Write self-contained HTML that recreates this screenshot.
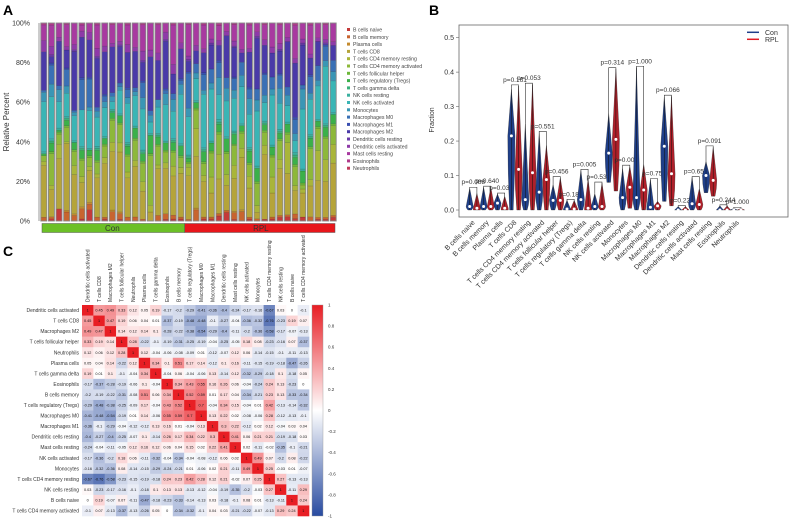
<!DOCTYPE html>
<html><head><meta charset="utf-8"><style>
html,body{margin:0;padding:0;background:#fff;}
svg{display:block;font-family:"Liberation Sans",Arial,sans-serif;}
</style></head><body>
<svg id="fig" width="789" height="519" viewBox="0 0 789 519" xmlns="http://www.w3.org/2000/svg">
<rect x="0" y="0" width="789" height="519" fill="#fff"/>
<text x="3" y="15" font-size="14" font-weight="bold">A</text>
<text x="429" y="15" font-size="14" font-weight="bold">B</text>
<text x="3" y="256" font-size="14" font-weight="bold">C</text>
<g id="pa"></g>
<g id="pb"></g>
<g id="pc"></g>
</svg>
<script>
// ---------- Panel A data ----------
const cellTypes=["B cells naive","B cells memory","Plasma cells","T cells CD8","T cells CD4 memory resting","T cells CD4 memory activated","T cells follicular helper","T cells regulatory (Tregs)","T cells gamma delta","NK cells resting","NK cells activated","Monocytes","Macrophages M0","Macrophages M1","Macrophages M2","Dendritic cells resting","Dendritic cells activated","Mast cells resting","Eosinophils","Neutrophils"];
const typeColors=["#c43a3a","#c8642f","#c48a2e","#b5a43a","#a9b53a","#8db83a","#6cb83a","#3bb04a","#3bb07a","#3bb0a0","#3ab5b5","#3a96b5","#3a70b5","#3a4fb0","#4a3aa8","#6a3aa8","#8e3aa8","#a83aa0","#b03a8a","#c03a5a"];
const groupCon=19, groupRpl=20;
const bNaive=[0,1,6,0,0,1,6,0,1,0,1,0,0,0,0,0,1,1,1, 0,0,1,1,2,4,1,0,1,0,1,1,2,2,1,2,0,1,1,2];
const bMem=[2,1,0,5,3,5,3,2,1,5,3,2,2,1,0,3,3,2,1, 1,6,1,1,1,1,4,5,1,1,0,1,1,1,2,0,2,1,1,1];
const plasma=[0,0,0,1,1,1,1,0,0,1,1,0,0,0,0,0,0,0,0, 0,1,0,0,0,0,1,1,0,0,0,0,0,0,0,0,0,0,0,0];
const cd8=[27,13,25,37,22,12,17,20,28,32,33,20,25,15,4,25,25,20,22, 25,28,18,12,14,12,20,28,15,3,35,12,25,20,10,12,15,20,20,28];
const cd4r=[2,2,7,1,5,3,2,2,3,5,5,3,3,5,3,2,3,5,3, 5,15,3,8,10,5,8,5,6,3,5,8,5,15,2,2,3,16,12,10];
const cd4a=[3,15,5,8,8,8,5,6,6,12,10,8,10,10,22,10,6,7,5, 2,10,6,12,8,10,12,8,6,10,7,10,10,4,8,2,15,12,12,10];
const tfh=[0,1,1,1,1,1,1,1,1,1,1,1,1,1,1,1,1,1,1, 1,1,1,1,1,1,1,1,1,1,1,1,1,1,1,1,1,1,1,1];
const treg=[1,4,1,3,4,4,3,5,3,3,4,4,5,4,8,4,4,4,5, 2,3,5,4,3,6,6,3,6,6,3,4,3,4,3,6,4,3,5,5];
const gd=[0,1,0,1,0,1,0,1,0,1,0,1,0,1,0,1,0,1,0, 1,0,1,0,1,0,1,0,1,0,1,0,1,0,1,0,1,0,1,0];
const nkR=[1,1,1,1,1,1,1,1,1,1,1,1,1,1,1,1,1,1,1, 1,1,1,1,1,1,1,1,1,1,1,1,1,1,1,1,1,1,1,1];
const nkA=[26,20,13,13,14,18,20,15,15,4,13,20,15,22,5,14,20,14,25, 22,12,27,26,10,17,20,20,17,25,10,25,14,8,5,30,17,18,32,17];
const mono=[5,6,6,4,2,0,2,3,3,3,2,3,2,6,3,4,6,6,5, 5,3,2,3,7,6,5,6,8,5,4,3,8,5,3,10,3,3,3,5];
const m0=[1,9,2,9,1,15,15,2,3,2,2,4,2,8,2,0,2,3,2, 20,5,8,7,6,5,7,7,5,5,11,6,7,4,6,2,8,8,8,6];
const m1=[0,1,0,1,0,1,1,0,1,0,0,1,0,1,0,0,1,0,1, 1,0,1,0,1,0,1,0,1,0,1,0,1,0,1,0,1,0,1,0];
const m2=[20,3,22,10,33,20,20,25,22,25,20,18,18,10,24,21,26,10,15, 6,7,10,12,6,20,18,5,18,23,15,12,12,22,23,20,8,13,0,8];
const dcR=[0,1,0,0,1,0,0,1,0,0,1,0,0,1,0,0,1,0,0, 1,0,0,1,0,0,1,0,0,1,0,0,1,0,0,1,0,0,1,0];
const dcA=[6,4,2,2,3,3,4,4,3,2,2,4,2,5,3,4,4,5,3, 2,3,2,2,2,2,3,2,2,2,3,3,3,2,2,2,2,2,2,2];
const mast=[8,10,7,12,12,3,5,12,12,10,10,10,12,14,12,15,5,20,10, 18,12,12,8,6,4,10,14,12,4,8,12,10,7,14,8,14,8,8,10];
const eos=[1,1,0,1,0,1,0,1,0,1,0,1,0,1,0,1,0,1,0, 1,0,1,0,1,0,1,0,1,0,1,0,1,0,1,0,1,0,1,0];
const neut=[0,0,0,0,0,0,0,0,0,0,0,0,0,0,0,0,0,0,0, 0,0,0,0,0,0,0,0,0,0,0,0,0,0,0,0,0,0,0,0];
const aTicks=["0%","20%","40%","60%","80%","100%"];

// ---------- Panel B data ----------
const bCats=["B cells naive","B cells memory","Plasma cells","T cells CD8","T cells CD4 memory resting","T cells CD4 memory activated","T cells follicular helper","T cells regulatory (Tregs)","T cells gamma delta","NK cells resting","NK cells activated","Monocytes","Macrophages M0","Macrophages M1","Macrophages M2","Dendritic cells resting","Dendritic cells activated","Mast cells resting","Eosinophils","Neutrophils"];
const conMax=[0.063,0.066,0.046,0.35,0.25,0.225,0.073,0.028,0.115,0.047,0.28,0.12,0.414,0.088,0.33,0.01,0.094,0.14,0.012,0.005];
const conMed=[0.01,0.01,0.02,0.215,0.03,0.052,0.028,0.003,0.03,0.01,0.165,0.036,0.036,0.008,0.185,0.0,0.018,0.1,0.0,0.0];
const conMin=[0,0,0,0,0,0,0,0,0,0,0.08,0,0,0,0.025,0,0,0.05,0,0];
const rplMax=[0.048,0.066,0.04,0.36,0.365,0.187,0.094,0.028,0.09,0.078,0.41,0.127,0.133,0.025,0.33,0.01,0.062,0.183,0.012,0.005];
const rplMed=[0.005,0.01,0.005,0.118,0.108,0.088,0.028,0.003,0.005,0.01,0.205,0.066,0.058,0.012,0.105,0.0,0.016,0.086,0.0,0.0];
const rplMin=[0,0,0,0,0,0,0,0,0,0,0.055,0.005,0,0,0.012,0,0,0.04,0,0];
const pVals=["p=0.088","p=0.640","p=0.037","p=0.161","p=0.053","p=0.551","p=0.456","p=0.188","p=0.005","p=0.531","p=0.314","p=0.001","p=1.000","p=0.755","p=0.066","p=0.225","p=0.652","p=0.091","p=0.244","p=1.000"];
const bTicks=[0,0.1,0.2,0.3,0.4,0.5];

// ---------- Panel C data ----------
const corrLabels=["Dendritic cells activated","T cells CD8","Macrophages M2","T cells follicular helper","Neutrophils","Plasma cells","T cells gamma delta","Eosinophils","B cells memory","T cells regulatory (Tregs)","Macrophages M0","Macrophages M1","Dendritic cells resting","Mast cells resting","NK cells activated","Monocytes","T cells CD4 memory resting","NK cells resting","B cells naive","T cells CD4 memory activated"];
const corrRows=[
[1,.45,.49,.33,.12,.05,.19,-.17,-.2,-.29,-.41,-.36,-.4,-.24,-.17,-.16,-.67,.03,0,-.1],
[.45,1,.47,.19,.06,.04,.01,-.37,-.19,-.48,-.48,-.1,-.27,-.04,-.36,-.32,-.76,-.23,.19,.07],
[.49,.47,1,.14,.12,.14,.1,-.28,-.22,-.38,-.54,-.29,-.4,-.11,-.2,-.36,-.58,-.17,-.07,-.13],
[.33,.19,.14,1,.28,-.22,-.1,-.19,-.31,-.25,-.19,-.04,-.25,-.05,.18,.08,-.23,-.16,.07,-.37],
[.12,.06,.12,.28,1,.12,-.04,-.06,-.08,-.09,.01,-.12,-.07,.12,.06,-.14,-.15,-.1,-.11,-.13],
[.05,.04,.14,-.22,.12,1,.34,.1,.51,.17,.14,-.12,.1,.16,-.11,-.15,-.19,-.18,-.47,-.26],
[.19,.01,.1,-.1,-.04,.34,1,-.04,.06,-.04,-.06,.13,-.14,.12,-.32,-.29,-.18,.1,-.18,.05],
[-.17,-.37,-.28,-.19,-.06,.1,-.04,1,.34,.43,.55,.16,.26,.06,-.04,-.24,.24,.13,-.23,0],
[-.2,-.19,-.22,-.31,-.08,.51,.06,.34,1,.52,.59,.01,.17,.04,-.34,-.21,.23,.13,-.33,-.34],
[-.29,-.48,-.38,-.25,-.09,.17,-.04,.43,.52,1,.7,-.04,.34,.15,-.04,.01,.42,-.13,-.14,-.32],
[-.41,-.48,-.54,-.19,.01,.14,-.06,.55,.59,.7,1,.13,.22,.02,-.08,-.06,.28,-.12,-.13,-.1],
[-.36,-.1,-.29,-.04,-.12,-.12,.13,.16,.01,-.04,.13,1,.3,.22,-.12,.02,.12,-.04,.03,.04],
[-.4,-.27,-.4,-.25,-.07,.1,-.14,.26,.17,.34,.22,.3,1,.41,.06,.21,.21,-.19,-.18,.03],
[-.24,-.04,-.11,-.05,.12,.16,.12,.06,.04,.15,.02,.22,.41,1,.02,-.11,-.02,-.35,-.1,-.21],
[-.17,-.36,-.2,.18,.06,-.11,-.32,-.04,-.34,-.04,-.08,-.12,.06,.02,1,.49,.07,-.2,.08,-.22],
[-.16,-.32,-.36,.08,-.14,-.15,-.29,-.24,-.21,.01,-.06,.02,.21,-.11,.49,1,.25,-.03,.01,-.07],
[-.67,-.76,-.58,-.23,-.15,-.19,-.18,.24,.23,.42,.28,.12,.21,-.02,.07,.25,1,.27,-.13,-.13],
[.03,-.23,-.17,-.16,-.1,-.18,.1,.13,.13,-.13,-.12,-.04,-.19,-.35,-.2,-.03,.27,1,-.11,.29],
[0,.19,-.07,.07,-.11,-.47,-.18,-.23,-.33,-.14,-.13,.03,-.18,-.1,.08,.01,-.13,-.11,1,.24],
[-.1,.07,-.13,-.37,-.13,-.26,.05,0,-.34,-.32,-.1,.04,.03,-.21,-.22,-.07,-.13,.29,.24,1]];
const cbTicks=["1","0.8","0.6","0.4","0.2","0","-0.2","-0.4","-0.6","-0.8","-1"];

const NS="http://www.w3.org/2000/svg";
function mk(tag,attrs,parent,txt){const e=document.createElementNS(NS,tag);for(const k in attrs)e.setAttribute(k,attrs[k]);if(txt!==undefined)e.textContent=txt;parent.appendChild(e);return e;}

// ---------- Draw A ----------
(function(){
const g=document.getElementById('pa');
const series=[bNaive,bMem,plasma,cd8,cd4r,cd4a,tfh,treg,gd,nkR,nkA,mono,m0,m1,m2,dcR,dcA,mast,eos,neut];
const n=bNaive.length;
const x0=40,x1=337,step=(x1-x0)/n,bw=step-1.6;
const yA=p=>221-p*1.98;
let ax=mk('line',{x1:39,y1:23,x2:39,y2:221,stroke:'#aaa','stroke-width':1.2},g);


aTicks.forEach((t,i)=>{
  const tt=mk('text',{x:30,y:yA(i*20)+2.5,'font-size':7,'text-anchor':'end',fill:'#333'},g,t);
  
  
});
const yt=mk('text',{x:0,y:0,'font-size':8,'text-anchor':'middle',fill:'#333',transform:'translate(9,122) rotate(-90)'},g,'Relative Percent');


for(let i=0;i<n;i++){
  const bx=x0+i*step+0.8;
  const bg=mk('g',{},g);
  
  
  let total=0;series.forEach(s=>{total+=s[i];});
  const k100=100/total;
  let cum=0;
  series.forEach((s,k)=>{
    const v=s[i]*k100;
    if(v<=0)return;
    const r=mk('rect',{x:bx,y:yA(cum+v),width:bw,height:v*1.98,fill:typeColors[k],stroke:'rgba(0,0,0,0.35)','stroke-width':0.3},bg);
    
    
    cum+=v;
  });
  const o=mk('rect',{x:bx,y:yA(100),width:bw,height:198,fill:'none',stroke:'#8a8a8a','stroke-width':0.9},bg);
  
  
}
const conW=step*groupCon;
const gc=mk('rect',{x:x0+2,y:223.5,width:conW-2,height:9,fill:'#6cc027',stroke:'#555','stroke-width':0.5},g);


const gr=mk('rect',{x:x0+conW,y:223.5,width:x1-x0-conW-2,height:9,fill:'#e8161b',stroke:'#555','stroke-width':0.5},g);


const tc=mk('text',{x:x0+conW/2,y:231,'font-size':8,'text-anchor':'middle',fill:'#333'},g,'Con');


const tr=mk('text',{x:x0+conW+(x1-x0-conW)/2,y:231,'font-size':8,'text-anchor':'middle',fill:'#333'},g,'RPL');


cellTypes.forEach((c,k)=>{
  const yy=30+k*7.3;
  const le=mk('g',{},g);
  
  
  mk('rect',{x:347,y:yy-2,width:3,height:3,fill:typeColors[k]},le);
  mk('text',{x:353,y:yy+1.5,'font-size':5.2,fill:'#444'},le,c);
});
})();

// ---------- Draw B ----------
(function(){
const g=document.getElementById('pb');
const xB=i=>473.3+i*13.9;
const yB=v=>210-v*344.7;
const fr=mk('rect',{x:459,y:25,width:329,height:192,fill:'none',stroke:'#666','stroke-width':0.8},g);


bTicks.forEach(t=>{
  mk('line',{x1:456,x2:459,y1:yB(t),y2:yB(t),stroke:'#666','stroke-width':0.6},g);
  const tl=mk('text',{x:454,y:yB(t)+2.5,'font-size':7,'text-anchor':'end',fill:'#333'},g,t.toFixed(1));
  
  
});
const yt=mk('text',{x:0,y:0,'font-size':7,'text-anchor':'middle',fill:'#333',transform:'translate(434,120) rotate(-90)'},g,'Fraction');


function violin(cx,mx,md,mn,col,name){
  const w=3.6;
  const yT=yB(mx),yM=yB(md),yL=yB(mn);
  const wl=(md-mn)<0.01?w:w*0.5;
  const d=`M${cx},${yT} Q${cx+w*0.5},${(yT+yM)/2} ${cx+w},${yM} Q${cx+w},${(yM+yL)/2} ${cx+wl},${yL} L${cx-wl},${yL} Q${cx-w},${(yM+yL)/2} ${cx-w},${yM} Q${cx-w*0.5},${(yT+yM)/2} ${cx},${yT} Z`;
  const p=mk('path',{d:d,fill:col,stroke:'#222','stroke-width':0.3},g);
  
  
  mk('line',{x1:cx,x2:cx,y1:yT,y2:yL,stroke:'#111','stroke-width':0.5},g);
  const dot=mk('circle',{cx:cx,cy:yM,r:1.5,fill:'#fff'},g);
  
  
}
bCats.forEach((c,i)=>{
  const cx=xB(i);
  violin(cx-3.6,conMax[i],conMed[i],conMin[i],'#1f3f8a','violin-con');
  violin(cx+3.6,rplMax[i],rplMed[i],rplMin[i],'#b0202a','violin-rpl');
  const top=Math.max(conMax[i],rplMax[i])+0.003;
  const yb=yB(top);
  const br=mk('path',{d:`M${cx-3.6},${yB(conMax[i])} L${cx-3.6},${yb} L${cx+3.6},${yb} L${cx+3.6},${yB(rplMax[i])}`,fill:'none',stroke:'#333','stroke-width':0.6},g);
  
  
  const pt=mk('text',{x:cx,y:yb-3,'font-size':6.5,'text-anchor':'middle',fill:'#333'},g,pVals[i]);
  
  
  const xl=mk('text',{x:0,y:0,'font-size':7,'text-anchor':'end',fill:'#333',transform:`translate(${cx+2},${223}) rotate(-45)`},g,c);
  
  
});
const l1=mk('g',{},g);


mk('line',{x1:747,x2:759,y1:32.3,y2:32.3,stroke:'#1f3f8a','stroke-width':1.5},l1);
mk('text',{x:765,y:35,'font-size':7,fill:'#333'},l1,'Con');
const l2=mk('g',{},g);


mk('line',{x1:747,x2:759,y1:39.3,y2:39.3,stroke:'#e01b24','stroke-width':1.5},l2);
mk('text',{x:765,y:42,'font-size':7,fill:'#333'},l2,'RPL');
})();

// ---------- Draw C ----------
(function(){
const g=document.getElementById('pc');
const n=corrLabels.length;
const cx0=82,cy0=305,cw=(309-82)/n,ch=(516-305)/n;
function col(v){
  const lerp=(a,b,t)=>Math.round(a+(b-a)*t);
  if(v>=0){const t=v;return `rgb(${lerp(255,232,t)},${lerp(255,30,t)},${lerp(255,36,t)})`;}
  const t=-v;return `rgb(${lerp(255,40,t)},${lerp(255,75,t)},${lerp(255,160,t)})`;
}
for(let r=0;r<n;r++){
  const rl=mk('text',{x:79,y:cy0+r*ch+ch/2+1.8,'font-size':5,'text-anchor':'end',fill:'#333'},g,corrLabels[r]);
  
  
  const cl=mk('text',{x:0,y:0,'font-size':5,'text-anchor':'start',fill:'#333',transform:`translate(${cx0+r*cw+cw/2+1.8},302) rotate(-90)`},g,corrLabels[r]);
  
  
  for(let c=0;c<n;c++){
    const v=corrRows[r][c];
    const cell=mk('rect',{x:cx0+c*cw,y:cy0+r*ch,width:cw+0.3,height:ch+0.3,fill:col(v)},g);
    
    
    const s=(v===1)?'1':(v===0?'0':(v<0?'-':'')+Math.abs(v).toFixed(2).replace(/0$/,''));
    const tx=mk('text',{x:cx0+c*cw+cw/2,y:cy0+r*ch+ch/2+1.3,'font-size':3.8,'text-anchor':'middle',fill:'#111'},g,s);
    
    
  }
}
const defs=mk('defs',{},g);
const lg=mk('linearGradient',{id:'cbg',x1:0,y1:0,x2:0,y2:1},defs);
mk('stop',{offset:'0','stop-color':'rgb(232,30,36)'},lg);
mk('stop',{offset:'0.5','stop-color':'#ffffff'},lg);
mk('stop',{offset:'1','stop-color':'rgb(40,75,160)'},lg);
const cb=mk('rect',{x:312,y:305,width:11,height:211,fill:'url(#cbg)',stroke:'#999','stroke-width':0.4},g);


cbTicks.forEach((t,i)=>{
  const tl=mk('text',{x:328,y:305+i*21.1+1.5,'font-size':4.5,fill:'#333'},g,t);
  
  
});
})();
</script>
</body></html>
